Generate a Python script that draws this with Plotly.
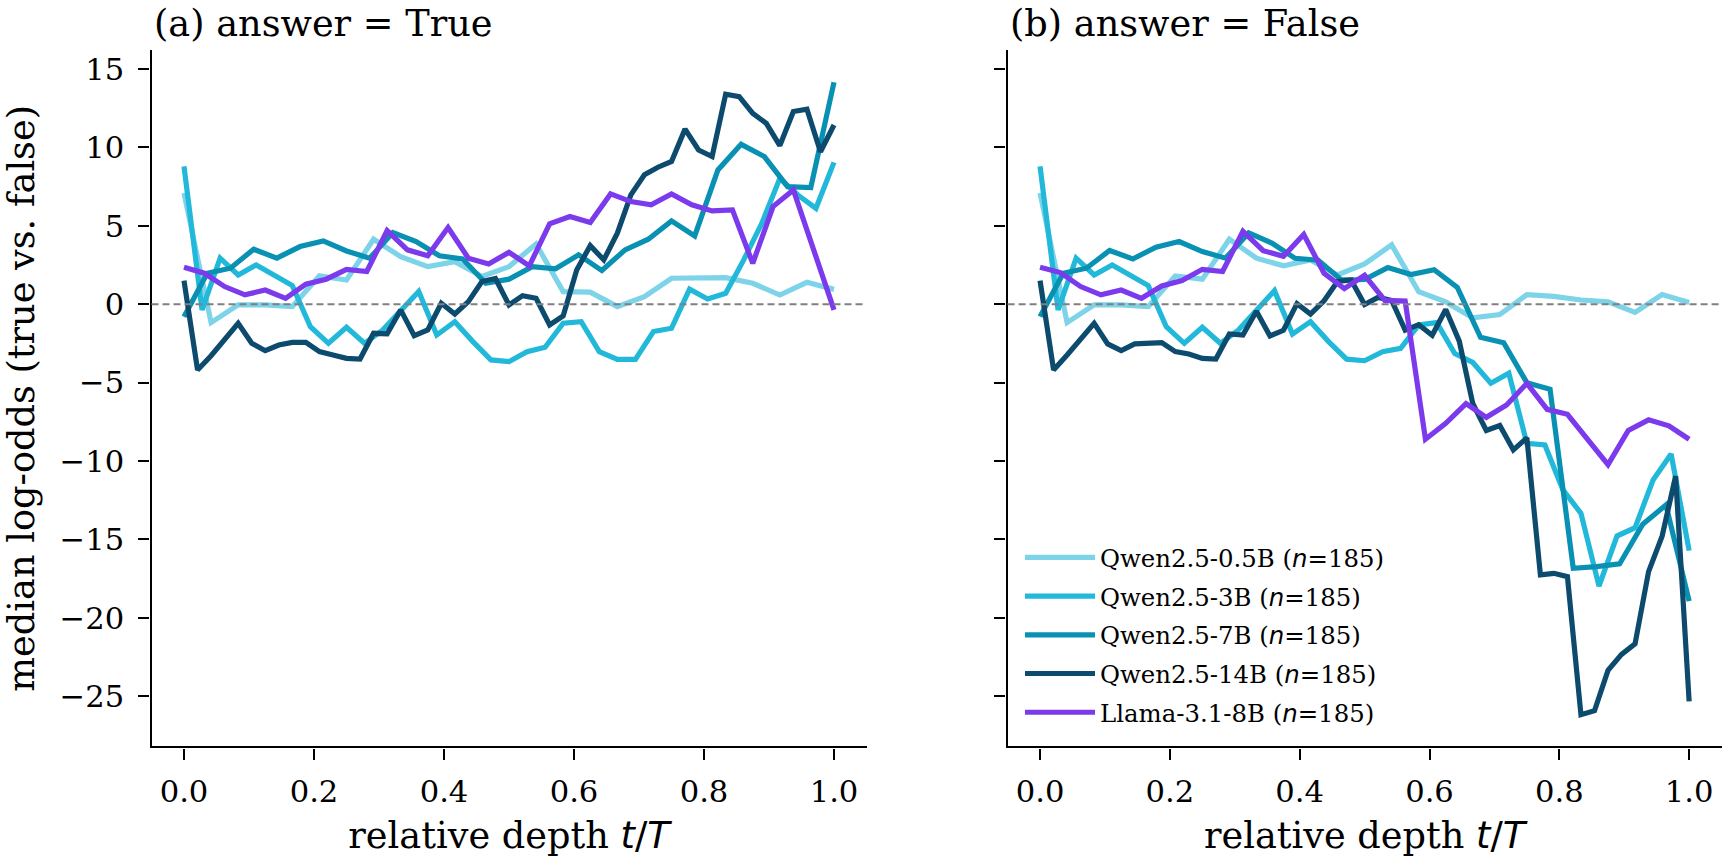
import numpy as np
import plotly.graph_objects as go

# ---------------- data (median log-odds per layer, relative depth t/T) ----------------
models = ["Qwen2.5-0.5B", "Qwen2.5-3B", "Qwen2.5-7B", "Qwen2.5-14B", "Llama-3.1-8B"]
n_items = [185, 185, 185, 185, 185]
colors = ["#7dd3e8", "#22b8da", "#0891b2", "#0c4a6e", "#7c3aed"]

# panel (a): answer = True
q05_true = [7.09, -1.17, -0.04, -0.04, -0.15, 1.81, 1.55, 4.15, 3.04, 2.4, 2.72, 1.77, 2.4,
            3.85, 0.81, 0.77, -0.15, 0.49, 1.66, 1.65, 1.7, 1.34, 0.59, 1.4, 0.95]
q3_true = [8.79, -0.36, 2.94, 1.87, 2.51, 1.87, 1.19, -1.43, -2.49, -1.47, -2.49, -1.64, -0.36,
           0.81, -1.96, -1.11, -2.38, -3.55, -3.66, -3.02, -2.74, -1.21, -1.11, -3.02, -3.51,
           -3.51, -1.74, -1.53, 0.96, 0.34, 0.7, 2.83, 5.16, 8.03, 6.97, 6.12, 9.05]
q7_true = [-0.79, 1.98, 2.3, 3.51, 2.94, 3.68, 4.04, 3.4, 2.94, 4.57, 4.0, 3.09, 2.89, 1.34, 1.6,
           2.4, 2.26, 3.15, 2.15, 3.47, 4.15, 5.32, 4.36, 8.57, 10.2, 9.42, 7.5, 7.44, 14.16]
q14_true = [1.51, -4.19, -3.28, -2.28, -1.21, -2.49, -2.96, -2.6, -2.43, -2.43, -3.02, -3.23,
            -3.45, -3.49, -1.85, -1.89, -0.36, -2.0, -1.64, 0.06, -0.62, 0.17, 1.45, 1.64, -0.04,
            0.55, 0.38, -1.32, -0.74, 2.19, 3.74, 2.83, 4.53, 6.98, 8.26, 8.74, 9.11, 11.17, 9.84,
            9.42, 13.39, 13.24, 12.18, 11.54, 10.12, 12.29, 12.44, 9.73, 11.43]
llama_true = [2.36, 1.98, 1.13, 0.6, 0.91, 0.38, 1.28, 1.6, 2.23, 2.09, 4.7, 3.47, 3.09, 4.89,
              2.94, 2.57, 3.32, 2.45, 5.13, 5.6, 5.21, 7.04, 6.55, 6.34, 7.04, 6.34, 5.95, 6.02,
              2.61, 6.23, 7.29, 3.36, -0.36]

# panel (b): answer = False
q05_false = [7.09, -1.17, -0.04, -0.04, -0.15, 1.81, 1.6, 4.15, 2.94, 2.45, 2.83, 1.87, 2.57,
             3.79, 0.8, 0.15, -0.87, -0.66, 0.62, 0.5, 0.27, 0.16, -0.52, 0.62, 0.12]
q3_false = [8.79, -0.36, 2.94, 1.87, 2.51, 1.87, 1.19, -1.43, -2.49, -1.47, -2.49, -1.64, -0.4,
            0.87, -1.9, -1.11, -2.38, -3.5, -3.6, -3.02, -2.81, -1.32, -1.17, -3.14, -3.71,
            -5.04, -4.4, -8.87, -8.97, -11.84, -13.33, -17.97, -14.78, -14.25, -11.21, -9.55,
            -15.71]
q7_false = [-0.79, 1.98, 2.3, 3.43, 2.89, 3.64, 4.0, 3.36, 2.94, 4.55, 3.9, 2.93, 2.81, 1.55,
            1.58, 2.34, 1.9, 2.2, 1.07, -2.11, -2.45, -5.0, -5.42, -16.84, -16.73, -16.56,
            -14.03, -12.8, -18.93]
q14_false = [1.51, -4.19, -3.23, -2.28, -1.21, -2.53, -2.96, -2.53, -2.45, -2.45, -3.02, -3.17,
             -3.45, -3.49, -1.89, -1.96, -0.45, -2.02, -1.66, 0.04, -0.63, 0.22, 1.45, 1.55,
             -0.02, 0.44, 0.24, -1.65, -1.3, -1.98, -0.33, -2.35, -6.33, -8.05, -7.73, -9.29,
             -8.52, -17.26, -17.16, -17.37, -26.17, -25.92, -23.35, -22.33, -21.66, -17.05,
             -14.79, -10.96, -25.33]
llama_false = [2.36, 2.02, 1.13, 0.6, 0.91, 0.38, 1.17, 1.51, 2.23, 2.09, 4.65, 3.42, 3.06, 4.45,
               1.98, 1.0, 1.85, 0.25, 0.2, -8.61, -7.59, -6.33, -7.21, -6.42, -5.04, -6.7, -7.02,
               -8.57, -10.23, -8.05, -7.37, -7.75, -8.61]

panel_titles = ["(a) answer = True", "(b) answer = False"]
x_ticks = [0.0, 0.2, 0.4, 0.6, 0.8, 1.0]
y_ticks = [-25, -20, -15, -10, -5, 0, 5, 10, 15]

series_true = [q05_true, q3_true, q7_true, q14_true, llama_true]
series_false = [q05_false, q3_false, q7_false, q14_false, llama_false]

# ---------------- figure ----------------
W, H = 1723, 861
FONT = "DejaVu Serif"
fig = go.Figure()

for panel, series in enumerate([series_true, series_false]):
    xa = "x" if panel == 0 else "x2"
    ya = "y" if panel == 0 else "y2"
    for i, vals in enumerate(series):
        depth = np.arange(len(vals)) / (len(vals) - 1)
        fig.add_trace(go.Scatter(
            x=depth, y=vals, mode="lines", xaxis=xa, yaxis=ya,
            line=dict(color=colors[i], width=5.2),
            name=f"{models[i]} (<span style='font-family:DejaVu Sans'><i>n</i></span>={n_items[i]})",
            legendgroup=models[i], showlegend=(panel == 1),
        ))

# axes geometry (px)
ax_l = [151.5, 1007.6]
ax_r = [866.5, 1721.6]
ax_top, ax_bot = 50.4, 746.3
ydom = [1 - ax_bot / H, 1 - ax_top / H]

common_x = dict(range=[-0.05, 1.05], tickvals=x_ticks, ticktext=[f"{v:.1f}" for v in x_ticks],
                showline=True, linecolor="black", linewidth=2.4, ticks="outside", ticklen=11,
                tickwidth=2.4, tickcolor="black", showgrid=False, zeroline=False,
                tickfont=dict(family=FONT, size=30.6, color="black"),
                title=dict(text="relative depth <span style='font-family:DejaVu Sans'><i>t</i>/<i>T</i></span>",
                           font=dict(family=FONT, size=36.7, color="black"), standoff=14),
                ticklabelstandoff=6)
common_y = dict(range=[-28.19, 16.19], tickvals=y_ticks,
                ticktext=[("\u2212" + str(-v)) if v < 0 else str(v) for v in y_ticks],
                showline=True, linecolor="black", linewidth=2.4, ticks="outside", ticklen=11,
                tickwidth=2.4, tickcolor="black", showgrid=False, zeroline=False,
                tickfont=dict(family=FONT, size=30.6, color="black"), domain=ydom,
                ticklabelstandoff=8)

fig.update_layout(
    width=W, height=H, margin=dict(l=0, r=0, t=0, b=0),
    paper_bgcolor="white", plot_bgcolor="white",
    font=dict(family=FONT, color="black"),
    xaxis=dict(domain=[ax_l[0] / W, ax_r[0] / W], anchor="y", **common_x),
    xaxis2=dict(domain=[ax_l[1] / W, ax_r[1] / W], anchor="y2", **common_x),
    yaxis=dict(anchor="x", title=dict(text="median log-odds (true vs. false)",
                                     font=dict(family=FONT, size=36.7, color="black"),
                                     standoff=14), **common_y),
    yaxis2=dict(anchor="x2", showticklabels=False, **common_y),
    legend=dict(x=1020 / W, y=1 - 535 / H, xanchor="left", yanchor="top",
                font=dict(family=FONT, size=24.4, color="black"),
                bgcolor="rgba(0,0,0,0)", tracegroupgap=4, itemwidth=70,
                traceorder="grouped"),
    showlegend=True,
)

# dashed zero reference lines
for ax in ["", "2"]:
    fig.add_shape(type="line", xref=f"x{ax} domain", yref=f"y{ax}", x0=0, x1=1, y0=0, y1=0,
                  line=dict(color="#808080", width=2.2, dash="7px,4px"), layer="above")

# panel titles
for p in range(2):
    fig.add_annotation(text=panel_titles[p], xref="paper", yref="paper",
                       x=ax_l[p] / W, y=1.0, xanchor="left", yanchor="top",
                       showarrow=False, font=dict(family=FONT, size=36.7, color="black"))

fig.write_html("out.html")
